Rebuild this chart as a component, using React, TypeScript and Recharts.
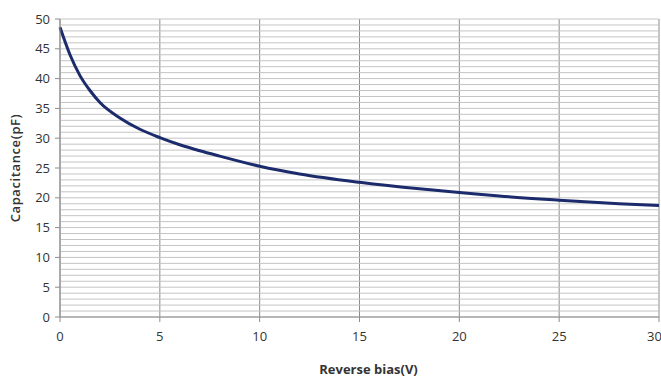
import { LineChart, Line, XAxis, YAxis, CartesianGrid, ReferenceLine } from "recharts";

// reverse bias (V) and capacitance (pF)
const voltage = [0, 0.5, 1, 1.5, 2, 3, 4, 5, 6, 7, 8, 10, 12, 15, 18, 20, 22, 25, 28, 30];
const capacitance = [48.6, 44.0, 40.5, 38.0, 36.0, 33.4, 31.5, 30.1, 28.9, 27.9, 27.0, 25.3, 24.0, 22.6, 21.5, 20.9, 20.3, 19.6, 19.0, 18.7];

const xTicks = [0, 5, 10, 15, 20, 25, 30];
const yTicks = [0, 5, 10, 15, 20, 25, 30, 35, 40, 45, 50];
const minorY = Array.from({ length: 51 }, (_, i) => i);

const data = voltage.map((v, i) => ({ v, c: capacitance[i] }));

const tickStyle = { fontFamily: "Open Sans", fontSize: 13, fill: "#333" };

const App = () => {
  return (
    <div style={{ position: "absolute", left: 0, top: 0, width: 661, height: 377, overflow: "hidden", background: "#fff" }}>
      <LineChart width={661} height={377} data={data} margin={{ top: 19, right: 2, left: 0, bottom: 0 }}>
        {minorY.map((y) => (
          <ReferenceLine key={y} y={y} stroke="#c4c4c4" strokeWidth={1} />
        ))}
        <CartesianGrid horizontal={false} stroke="#8c8c8c" />
        <XAxis
          dataKey="v"
          type="number"
          domain={[0, 30]}
          ticks={xTicks}
          height={60}
          tickSize={5}
          tickMargin={10}
          stroke="#8c8c8c"
          tick={tickStyle}
          label={{
            value: "Reverse bias(V)",
            position: "insideBottom",
            offset: 3,
            dx: 9,
            style: { fontFamily: "Open Sans", fontSize: 13, fontWeight: 700, fill: "#333" },
          }}
        />
        <YAxis
          type="number"
          domain={[0, 50]}
          ticks={yTicks}
          width={60}
          tickSize={5}
          tickMargin={5}
          stroke="#8c8c8c"
          tick={tickStyle}
          label={{
            value: "Capacitance(pF)",
            angle: -90,
            position: "insideLeft",
            offset: 15,
            style: { textAnchor: "middle", fontFamily: "Open Sans", fontSize: 13, fontWeight: 600, letterSpacing: 0.6, fill: "#333" },
          }}
        />
        <Line
          type="monotone"
          dataKey="c"
          stroke="#1c2b6b"
          strokeWidth={3}
          dot={false}
          isAnimationActive={false}
        />
      </LineChart>
    </div>
  );
};

export default App;
